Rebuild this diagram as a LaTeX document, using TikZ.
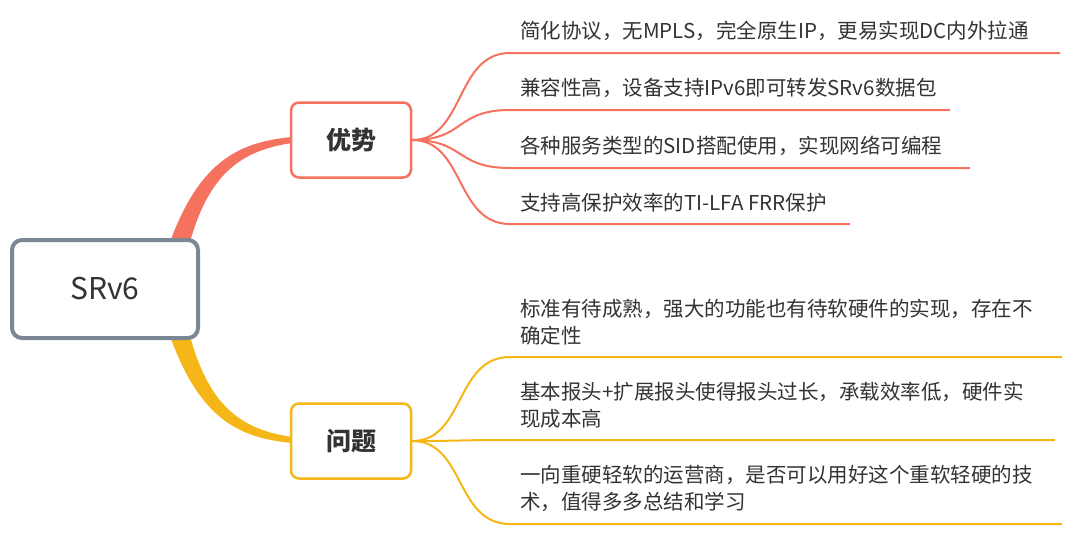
\documentclass[tikz,border=0pt]{standalone}
\usepackage{fontspec}
\newfontfamily\cjk{Noto Sans CJK SC}
\setmainfont{Noto Sans CJK SC}
\definecolor{salm}{HTML}{F4725E}
\definecolor{yel}{HTML}{F5B617}
\definecolor{gr}{HTML}{7B8794}
\definecolor{txt}{HTML}{333333}
\begin{document}
\begin{tikzpicture}[x=1pt,y=-1pt,
 leaf/.style={anchor=south west,inner sep=0pt,font=\fontsize{20.5}{27}\selectfont,text=txt,align=left},
 topic/.style={draw,line width=2.5pt,rounded corners=8pt,fill=white,minimum width=120,minimum height=75,font=\fontsize{25}{28}\selectfont\bfseries,text=txt}]
\useasboundingbox (0,0) rectangle (1080,552);
% branches
\fill[salm] (170,242) .. controls (200,160) and (240,142) .. (292,137) -- (292,143) .. controls (245,150) and (210,170) .. (190,242) -- cycle;
\fill[yel] (170,336) .. controls (200,420) and (240,438) .. (292,443) -- (292,437) .. controls (245,430) and (210,410) .. (190,336) -- cycle;
\node[draw=gr,line width=4pt,rounded corners=10pt,fill=white,minimum width=186,minimum height=98,font=\fontsize{30}{32}\selectfont,text=txt] (root) at (105,289) {SRv6};
\node[topic,draw=salm] (a) at (351,140) {优势};
\node[topic,draw=yel] (b) at (351,441) {问题};
% salmon leaves
\foreach \y/\e/\t in {53/1060/{简化协议，无MPLS，完全原生IP，更易实现DC内外拉通},110/950/{兼容性高，设备支持IPv6即可转发SRv6数据包},168/970/{各种服务类型的SID搭配使用，实现网络可编程},224/850/{支持高保护效率的TI-LFA FRR保护}}{
 \coordinate (s) at (510,\y);
 \draw[salm,line width=2pt] (a.east) .. controls (465,140) and (455,\y) .. (s) -- (\e,\y);
 \node[leaf] at (520,\y-12) {\t};
}
\foreach \y/\e/\t in {357/1062/{标准有待成熟，强大的功能也有待软硬件的实现，存在不\\确定性},440/1055/{基本报头+扩展报头使得报头过长，承载效率低，硬件实\\现成本高},524/1062/{一向重硬轻软的运营商，是否可以用好这个重软轻硬的技\\术，值得多多总结和学习}}{
 \coordinate (s) at (510,\y);
 \draw[yel,line width=2pt] (b.east) .. controls (465,441) and (455,\y) .. (s) -- (\e,\y);
 \node[leaf] at (520,\y-12) {\t};
}
\end{tikzpicture}
\end{document}
